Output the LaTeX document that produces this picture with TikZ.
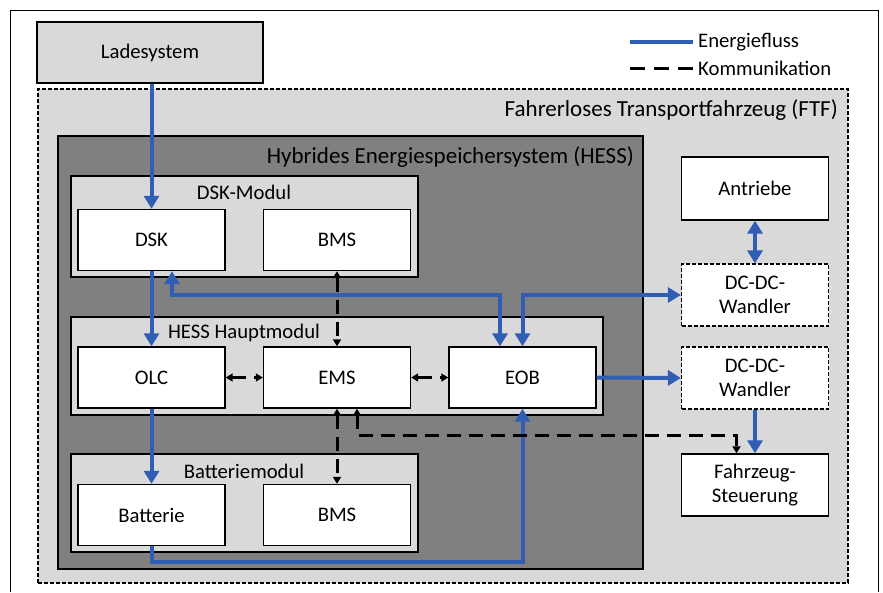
\documentclass[tikz,border=0pt]{standalone}
\usepackage{fontspec}
\setmainfont{Carlito}
\usetikzlibrary{arrows.meta,positioning}

\definecolor{energyblue}{RGB}{47,94,180}
\definecolor{lightfill}{RGB}{217,217,217}
\definecolor{hessfill}{RGB}{128,128,128}

\tikzset{
    bigtip/.tip={Triangle[width=15pt,length=13pt]},
    smalltip/.tip={Triangle[width=8pt,length=7pt]},
    block/.style={draw, line width=1.4pt, fill=white, minimum width=147pt, minimum height=61pt, align=center},
    dashblock/.style={block, line width=1.2pt, dash pattern=on 4pt off 2pt},
    module/.style={draw, line width=1.4pt, fill=lightfill},
    arealabel/.style={inner sep=0pt, anchor=east, font=\fontsize{23}{26}\selectfont},
    energy/.style={draw=energyblue, line width=4pt, -bigtip},
    energyboth/.style={energy, bigtip-bigtip},
    comm/.style={draw=black, line width=3pt, dash pattern=on 14pt off 8pt, smalltip-smalltip},
}

\begin{document}
\begin{tikzpicture}[x=1pt, y=-1pt, every node/.style={font=\fontsize{20.7}{24}\selectfont, text=black}]
    \useasboundingbox (0,0) rectangle (883,592);

    % Outer frame
    \draw[line width=0.8pt] (10,592) |- (878,10) -- (878,592);

    % Charging system
    \node[block, fill=lightfill, minimum width=226pt] (lade) at (150,52.5) {Ladesystem};

    % Legend
    \node[anchor=west, inner sep=0pt] (legenergy) at (698,42) {Energiefluss};
    \node[anchor=west, inner sep=0pt] (legcomm) at (698,68) {Kommunikation};
    \draw[draw=energyblue, line width=4pt] ([xshift=-68pt]legenergy.west) -- ([xshift=-5pt]legenergy.west);
    \draw[line width=3pt, dash pattern=on 15pt off 9pt] ([xshift=-68pt]legcomm.west) -- ([xshift=-5pt]legcomm.west);

    % FTF area
    \node[draw, line width=1.2pt, dash pattern=on 4pt off 2pt, fill=lightfill, minimum width=810pt, minimum height=494pt] (ftf) at (443,336) {};
    \node[arealabel] (ftflabel) at (838,110) {Fahrerloses Transportfahrzeug (FTF)};

    % HESS area
    \node[draw, line width=1.4pt, fill=hessfill, minimum width=585pt, minimum height=433pt] (hess) at (350.5,352.5) {};
    \node[arealabel] (hesslabel) at (634,157) {Hybrides Energiespeichersystem (HESS)};

    % Modules
    \node[module, minimum width=347pt, minimum height=101pt] (dskmod) at (244.5,226.5) {};
    \node[module, minimum width=532pt, minimum height=98pt] (hauptmod) at (337,366) {};
    \node[module, minimum width=347pt, minimum height=98pt] (battmod) at (244.5,503) {};
    \node[inner sep=0pt] (dskmodlabel) at (244,192) {DSK-Modul};
    \node[inner sep=0pt] (hauptmodlabel) at (244,333) {HESS Hauptmodul};
    \node[inner sep=0pt] (battmodlabel) at (244,471) {Batteriemodul};

    % Components inside the HESS
    \foreach \name/\x/\y/\txt in {dsk/151.5/240/DSK, bmsdsk/337/240/BMS,
                                  olc/151.5/377.5/OLC, ems/337/377.5/EMS, eob/522.5/377.5/EOB,
                                  batt/151.5/515/Batterie, bmsbatt/337/515/BMS} {
        \node[block] (\name) at (\x,\y) {\txt};
    }

    % Components of the vehicle
    \node[block, minimum height=63pt] (antriebe) at (755,188.5) {Antriebe};
    \node[dashblock, minimum height=62pt] (dcdcone) at (755,295) {DC-DC-\\Wandler};
    \node[dashblock, minimum height=62pt] (dcdctwo) at (755,378) {DC-DC-\\Wandler};
    \node[block, minimum height=62pt] (fzs) at (755,485) {Fahrzeug-\\Steuerung};

    % Energy flow
    \draw[energy] (lade.south -| dsk.north) -- (dsk.north);
    \draw[energy] (dsk) -- (olc);
    \draw[energy] (olc) -- (batt);
    \draw[energy] (batt.south) -- ++(0,16) -| (eob.south);
    \draw[energyboth] ([xshift=20.5pt]dsk.south) |- ([xshift=-22.5pt]eob.north |- dcdcone.west) -- ([xshift=-22.5pt]eob.north);
    \draw[energyboth] (eob.north) |- (dcdcone.west);
    \draw[energy] (eob.east) -- (dcdctwo.west);
    \draw[energyboth] (antriebe) -- (dcdcone);
    \draw[energy] (dcdctwo) -- (fzs);

    % Communication
    \draw[comm] (bmsdsk.south) -- (ems.north);
    \draw[comm] (olc) -- (ems);
    \draw[comm] (ems) -- (eob);
    \draw[comm] (ems.south) -- (bmsbatt.north);
    \draw[comm] ([xshift=20pt]ems.south) -- ++(0,27) -| ([xshift=-18.5pt]fzs.north);
\end{tikzpicture}
\end{document}
